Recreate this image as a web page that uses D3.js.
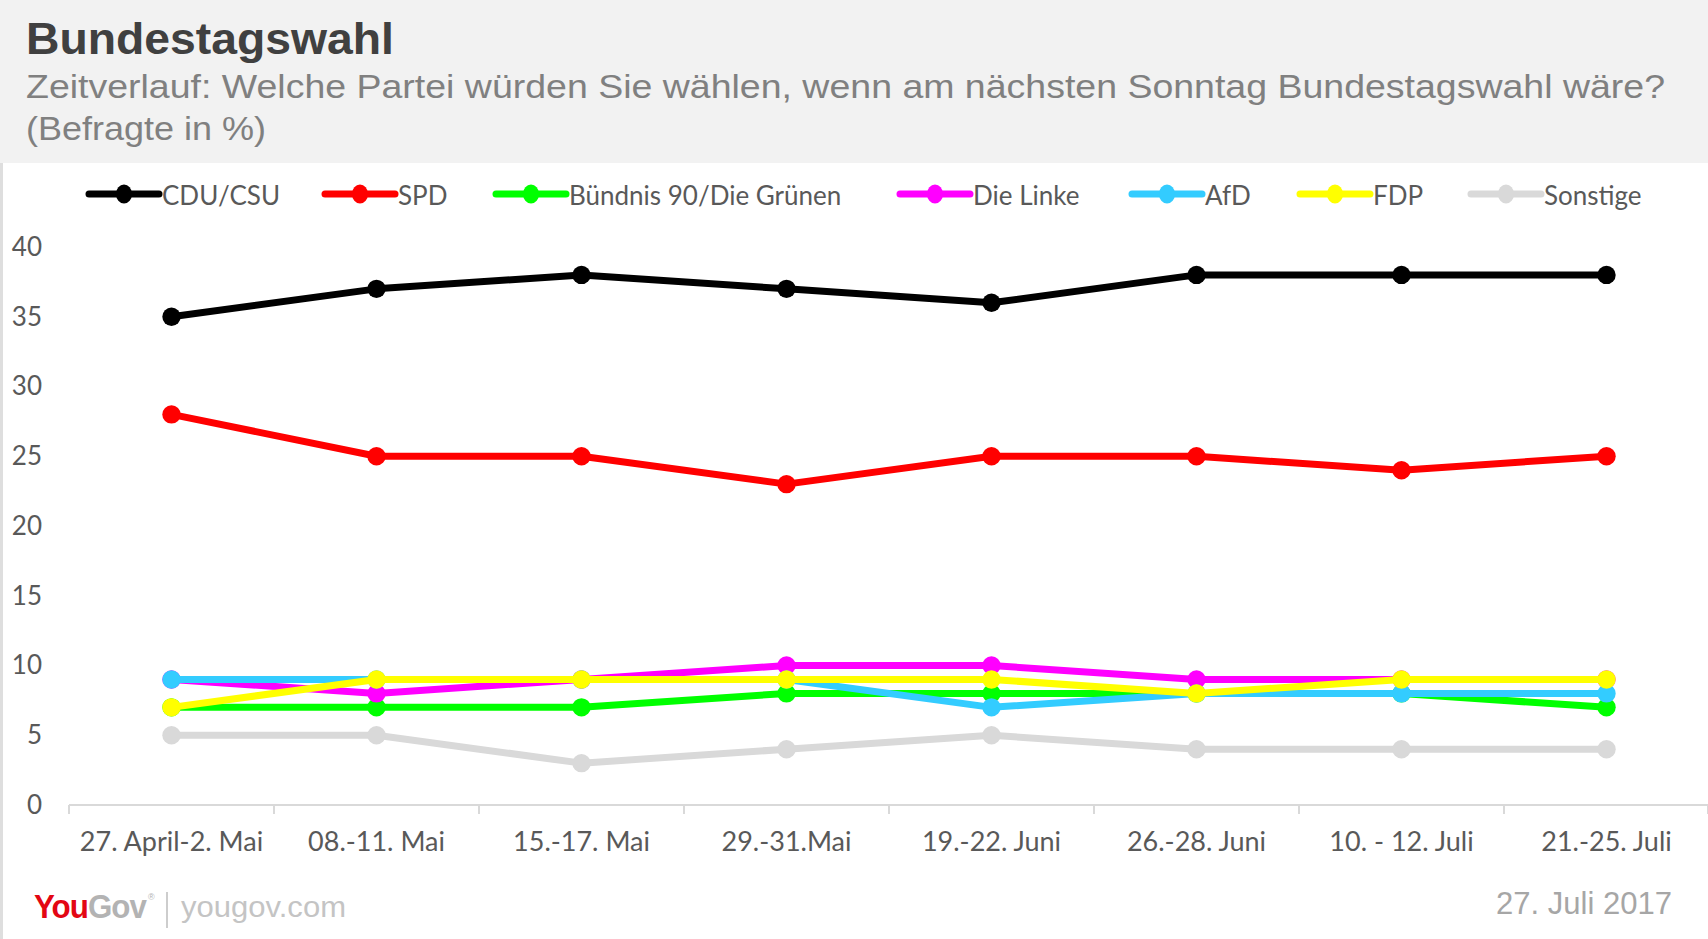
<!DOCTYPE html>
<html>
<head>
<meta charset="utf-8">
<script src="https://cdn.jsdelivr.net/npm/d3@7"></script>
<style>
  html, body { margin: 0; padding: 0; background: #ffffff; }
  svg { display: block; }
</style>
</head>
<body>
<svg id="chart" width="1708" height="939"></svg>
<script>
// ---- DATA ----
const categories = ["27. April-2. Mai", "08.-11. Mai", "15.-17. Mai", "29.-31.Mai", "19.-22. Juni", "26.-28. Juni", "10. - 12. Juli", "21.-25. Juli"];
const seriesNames = ["CDU/CSU", "SPD", "Bündnis 90/Die Grünen", "Die Linke", "AfD", "FDP", "Sonstige"];
const cduCsu   = [35, 37, 38, 37, 36, 38, 38, 38];
const spd      = [28, 25, 25, 23, 25, 25, 24, 25];
const gruene   = [7, 7, 7, 8, 8, 8, 8, 7];
const linke    = [9, 8, 9, 10, 10, 9, 9, 9];
const afd      = [9, 9, 9, 9, 7, 8, 8, 8];
const fdp      = [7, 9, 9, 9, 9, 8, 9, 9];
const sonstige = [5, 5, 3, 4, 5, 4, 4, 4];
const seriesColors = ["#000000", "#ff0000", "#00ff00", "#ff00ff", "#33ccff", "#ffff00", "#d9d9d9"];
const yTicks = [0, 5, 10, 15, 20, 25, 30, 35, 40];

const seriesValues = [cduCsu, spd, gruene, linke, afd, fdp, sonstige];
const series = seriesNames.map((name, i) => ({ name, color: seriesColors[i], values: seriesValues[i] }));

// ---- LAYOUT ----
const W = 1708, H = 939;
const svg = d3.select("#chart");

// header
svg.append("rect").attr("x", 0).attr("y", 0).attr("width", W).attr("height", 163).attr("fill", "#f2f2f2");
// left border of white area
svg.append("rect").attr("x", 0).attr("y", 163).attr("width", 3).attr("height", H - 163).attr("fill", "#dedede");

svg.append("text")
  .attr("x", 26).attr("y", 54)
  .attr("font-family", "'Liberation Sans', Arial, sans-serif")
  .attr("font-weight", "bold")
  .attr("font-size", 44)
  .attr("fill", "#404040")
  .attr("textLength", 368).attr("lengthAdjust", "spacingAndGlyphs")
  .text("Bundestagswahl");

svg.append("text")
  .attr("x", 26).attr("y", 98)
  .attr("font-family", "'Liberation Sans', Arial, sans-serif")
  .attr("font-size", 33)
  .attr("fill", "#808080")
  .attr("textLength", 1639).attr("lengthAdjust", "spacingAndGlyphs")
  .text("Zeitverlauf: Welche Partei würden Sie wählen, wenn am nächsten Sonntag Bundestagswahl wäre?");

svg.append("text")
  .attr("x", 26).attr("y", 140)
  .attr("font-family", "'Liberation Sans', Arial, sans-serif")
  .attr("font-size", 33)
  .attr("fill", "#808080")
  .attr("textLength", 240).attr("lengthAdjust", "spacingAndGlyphs")
  .text("(Befragte in %)");

// ---- SCALES ----
const x = d3.scaleBand().domain(categories).range([69, 1709]).padding(0);
const y = d3.scaleLinear().domain([0, 40]).range([805, 247]);
const cx = d => x(d) + x.bandwidth() / 2;

const labelFont = "Lato, 'Open Sans', sans-serif";

// y axis labels
const yAxis = svg.append("g")
  .attr("transform", "translate(42,0)")
  .call(d3.axisLeft(y).tickValues(yTicks).tickSize(0).tickPadding(0));
yAxis.select(".domain").remove();
yAxis.selectAll("text")
  .attr("font-family", labelFont)
  .attr("font-size", 26)
  .attr("fill", "#595959");

// x axis
const xAxis = svg.append("g")
  .attr("transform", `translate(0,${y(0)})`)
  .call(d3.axisBottom(x).tickSize(0).tickPadding(27));
xAxis.select(".domain").attr("stroke", "#d9d9d9").attr("stroke-width", 2)
  .attr("d", `M${x.range()[0]},0H${x.range()[1]}`);
xAxis.selectAll("text")
  .attr("font-family", labelFont)
  .attr("font-size", 27)
  .attr("fill", "#595959");
// tick marks at band boundaries
const edges = categories.map(c => x(c)).concat([x.range()[1] - 1]);
xAxis.selectAll("line.edge").data(edges).enter().append("line")
  .attr("class", "edge")
  .attr("x1", d => d).attr("x2", d => d)
  .attr("y1", 0).attr("y2", 9)
  .attr("stroke", "#d9d9d9").attr("stroke-width", 2);

// ---- LINES ----
const line = d3.line().x((v, i) => cx(categories[i])).y(v => y(v));
const gSeries = svg.append("g");
series.forEach(s => {
  const g = gSeries.append("g");
  g.append("path")
    .attr("d", line(s.values))
    .attr("fill", "none")
    .attr("stroke", s.color)
    .attr("stroke-width", 7)
    .attr("stroke-linejoin", "round");
  g.selectAll("circle").data(s.values).enter().append("circle")
    .attr("cx", (v, i) => cx(categories[i]))
    .attr("cy", v => y(v))
    .attr("r", 9.2)
    .attr("fill", s.color);
});

// ---- LEGEND ----
const legendX = [89, 325, 496, 900, 1132, 1300, 1471];
const legendY = 194;
const lg = svg.append("g");
series.forEach((s, i) => {
  const x0 = legendX[i];
  lg.append("line").attr("x1", x0).attr("x2", x0 + 70).attr("y1", legendY).attr("y2", legendY)
    .attr("stroke", s.color).attr("stroke-width", 7).attr("stroke-linecap", "round");
  lg.append("ellipse").attr("cx", x0 + 35).attr("cy", legendY).attr("rx", 8).attr("ry", 9.5).attr("fill", s.color);
  lg.append("text").attr("x", x0 + 73).attr("y", legendY + 2)
    .attr("dy", "0.35em")
    .attr("font-family", labelFont)
    .attr("font-size", 26)
    .attr("fill", "#595959")
    .text(s.name);
});

// ---- FOOTER ----
const logo = svg.append("text")
  .attr("x", 34).attr("y", 918)
  .attr("font-family", "'Liberation Sans', Arial, sans-serif")
  .attr("font-weight", "bold")
  .attr("font-size", 33)
  .attr("letter-spacing", -1)
  .attr("textLength", 112).attr("lengthAdjust", "spacingAndGlyphs");
logo.append("tspan").attr("fill", "#e30613").text("You");
logo.append("tspan").attr("fill", "#b3b3b3").text("Gov");
svg.append("text").attr("x", 148).attr("y", 900)
  .attr("font-family", "'Liberation Sans', Arial, sans-serif")
  .attr("font-size", 9).attr("fill", "#b3b3b3").text("®");
svg.append("line").attr("x1", 167).attr("x2", 167).attr("y1", 892).attr("y2", 928)
  .attr("stroke", "#bdbdbd").attr("stroke-width", 1.5);
svg.append("text")
  .attr("x", 181).attr("y", 917)
  .attr("font-family", "'Liberation Sans', Arial, sans-serif")
  .attr("font-size", 30)
  .attr("fill", "#c4c4c4")
  .attr("textLength", 165).attr("lengthAdjust", "spacingAndGlyphs")
  .text("yougov.com");

svg.append("text")
  .attr("x", 1496).attr("y", 914)
  .attr("font-family", "'Liberation Sans', Arial, sans-serif")
  .attr("font-size", 31)
  .attr("fill", "#a6a6a6")
  .attr("textLength", 176).attr("lengthAdjust", "spacingAndGlyphs")
  .text("27. Juli 2017");
</script>
</body>
</html>
